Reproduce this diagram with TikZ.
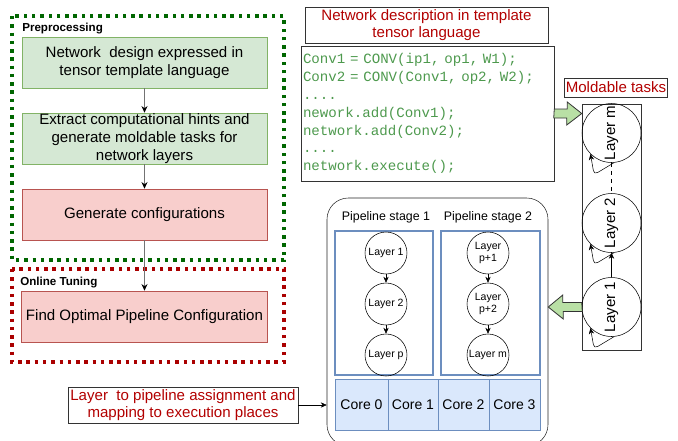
\documentclass[tikz,border=0pt]{standalone}
\usepackage{fontspec}
\setmainfont{Liberation Sans}
\setmonofont{Liberation Mono}
\usetikzlibrary{arrows.meta}

\definecolor{fillgreen}{RGB}{213,232,212}
\definecolor{drawgreen}{RGB}{130,179,102}
\definecolor{fillred}{RGB}{248,206,204}
\definecolor{drawred}{RGB}{184,84,80}
\definecolor{fillblue}{RGB}{218,232,252}
\definecolor{drawblue}{RGB}{108,142,191}
\definecolor{dotgreen}{RGB}{0,102,0}
\definecolor{dotred}{RGB}{170,0,0}
\definecolor{textred}{RGB}{178,0,0}
\definecolor{codegreen}{RGB}{77,153,77}
\definecolor{arrowgreen}{RGB}{185,224,165}

\tikzset{
  mainfont/.style={font=\fontsize{11.3}{13.2}\selectfont},
  flowbox/.style={mainfont, draw, align=center, minimum width=183.75pt, minimum height=38.25pt, inner ysep=0pt},
  greenbox/.style={flowbox, fill=fillgreen, draw=drawgreen},
  redbox/.style={flowbox, fill=fillred, draw=drawred},
  grouplabel/.style={anchor=west, inner sep=0pt, font=\bfseries\fontsize{8.7}{10}\selectfont},
  dotbox/.style={line width=2.6pt, dash pattern=on 2.6pt off 3.6pt},
  notebox/.style={mainfont, draw=black!80, text=textred, align=center, inner sep=0pt},
  flowarrow/.style={draw=black!55, line width=1pt, -{Stealth[length=5pt,width=4.5pt,black]}},
  bigcircle/.style={draw, circle, minimum size=44.25pt, inner sep=0pt},
  smallcircle/.style={draw, circle, minimum size=31.5pt, inner sep=0pt, align=center,
    font=\fontsize{7.9}{8.6}\selectfont},
  stagebox/.style={draw=drawblue, line width=2.2pt, fill=white, minimum height=108pt},
  corebox/.style={draw=drawblue, fill=fillblue, minimum height=38.25pt, inner sep=0pt,
    font=\fontsize{10.5}{12}\selectfont},
  blockarrow/.style={draw=black!80, fill=arrowgreen, line width=0.6pt}
}

\begin{document}
\begin{tikzpicture}[x=0.75pt, y=-0.75pt, >={Stealth[length=4.5pt,width=4pt]}]
\useasboundingbox (0,0) rectangle (678,440);

% Dotted group frames (left)
\draw[dotbox, draw=dotgreen] (12,16) rectangle (284,260);
\draw[dotbox, draw=dotred] (12,269) rectangle (284,362);

% Preprocessing steps
\node[grouplabel] (prelabel) at (22,29) {Preprocessing};
\node[greenbox] (design) at (144.5,62.5) {Network~ design expressed in\\tensor template language};
\node[greenbox] (extract) at (144.5,138.5) {Extract computational hints and\\generate moldable tasks for\\network layers};
\node[redbox] (gen) at (144.5,214.5) {Generate configurations};

% Online tuning step
\node[grouplabel] (onlabel) at (20,283) {Online Tuning};
\node[redbox] (find) at (144.5,316.5) {Find Optimal Pipeline Configuration};

\draw[flowarrow] (design) -- (extract);
\draw[flowarrow] (extract) -- (gen);
\draw[flowarrow] (gen) -- (find);

% Network description and code
\node[notebox, minimum width=182.25pt, minimum height=27pt] (desc) at (426.5,25) {Network description in template\\tensor language};
\node[draw=black!80, minimum width=189.75pt, minimum height=101.25pt, inner sep=0pt, text width=186.75pt, align=left,
  text=codegreen, font=\ttfamily\fontsize{10.6}{13.4}\selectfont] (code) at (427.5,113.5)
  {Conv1 = CONV(ip1, op1, W1);\\Conv2 = CONV(Conv1, op2, W2);\\....\\nework.add(Conv1);\\network.add(Conv2);\\....\\network.execute();};

% Moldable tasks
\node[notebox, minimum width=77.25pt, minimum height=14.25pt] (moldlab) at (616,87.5) {Moldable tasks};
\node[draw=black!80, minimum width=44.25pt, minimum height=184.5pt, inner sep=0pt] (tasks) at (611.5,227) {};
\node[bigcircle] (lm) at (611.5,133) {};
\node[bigcircle] (l2) at (611.5,223) {};
\node[bigcircle] (l1) at (611.5,307) {};
\node[mainfont, rotate=90] (lmtext) at (lm) {Layer m};
\node[mainfont, rotate=90] (l2text) at (l2) {Layer 2};
\node[mainfont, rotate=90] (l1text) at (l1) {Layer 1};
\draw[dashed] (lm) -- (l2);
\draw[->] (l1) -- (l2);
\draw[->, rounded corners=3pt] (lm.-85) -- ++(-20,12) -- (lm.-135);
\draw[->, rounded corners=3pt] (l2.-85) -- ++(-20,12) -- (l2.-135);
\draw[->, rounded corners=3pt] (l1.-85) -- ++(-20,12) -- (l1.-135);

% Pipeline stages
\node[draw=black!85, rounded corners=16pt, minimum width=165.75pt, minimum height=186pt] (pipe) at (437.5,322) {};
\node[font=\fontsize{9.3}{11}\selectfont] (st1lab) at (386,217) {Pipeline stage 1};
\node[font=\fontsize{9.3}{11}\selectfont] (st2lab) at (488,217) {Pipeline stage 2};
\node[stagebox, minimum width=73.5pt] (st1) at (384,303) {};
\node[stagebox, minimum width=74.25pt] (st2) at (490.5,303) {};

\node[smallcircle] (s1a) at (386,253) {Layer 1};
\node[smallcircle] (s1b) at (386,304) {Layer 2};
\node[smallcircle] (s1c) at (386,355) {Layer p};
\draw[->] (s1a) -- (s1b);
\draw[->] (s1b) -- (s1c);

\node[smallcircle] (s2a) at (488,253) {Layer\\p+1};
\node[smallcircle] (s2b) at (488,304) {Layer\\p+2};
\node[smallcircle] (s2c) at (488,355) {Layer m};
\draw[->] (s2a) -- (s2b);
\draw[->] (s2b) -- (s2c);

% Cores
\node[corebox, minimum width=39.75pt] (c0) at (361.5,404.5) {Core 0};
\node[corebox, minimum width=37.5pt] (c1) at (413,404.5) {Core 1};
\node[corebox, minimum width=38.25pt] (c2) at (463.5,404.5) {Core 2};
\node[corebox, minimum width=38.25pt] (c3) at (514.5,404.5) {Core 3};

% Assignment note
\node[notebox, minimum width=172.5pt, minimum height=27pt] (assign) at (183,405) {Layer~ to pipeline assignment and\\mapping to execution places};
\draw[->] (assign) -- (assign.east -| pipe.west);

% Block arrows
\draw[blockarrow] (code.east) ++(0,-4.5) -- ++(13,0) -- ++(0,-7) -- (code.east -| tasks.west)
  -- ++(-15,11.5) -- ++(0,-7) -- ++(-13,0) -- cycle;
\draw[blockarrow] (tasks.west |- l1) ++(0,-4.5) -- ++(-19,0) -- ++(0,-7.5) -- (pipe.east |- l1)
  -- ++(15,12) -- ++(0,-7.5) -- ++(19,0) -- cycle;

\end{tikzpicture}
\end{document}
